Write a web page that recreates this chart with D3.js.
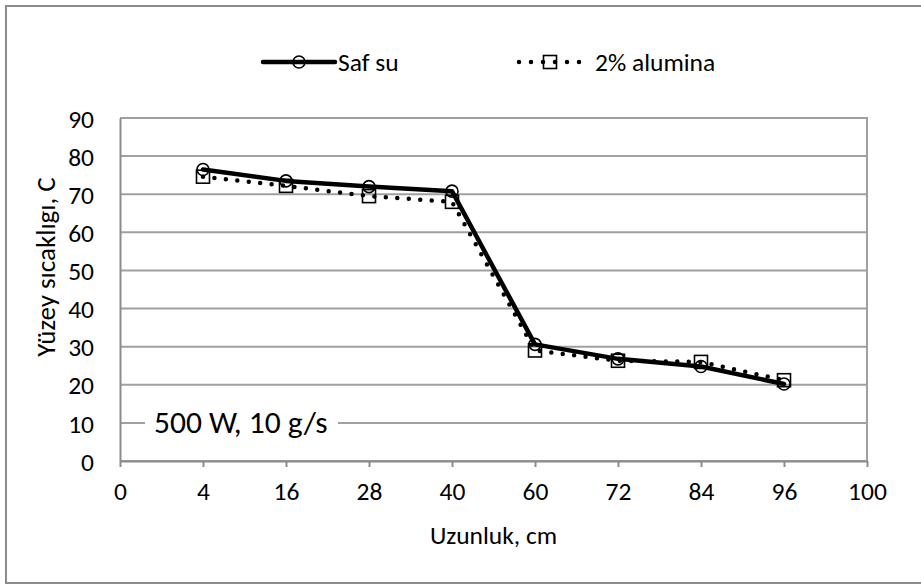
<!DOCTYPE html>
<html>
<head>
<meta charset="utf-8">
<script src="https://cdn.jsdelivr.net/npm/d3@7"></script>
<style>
  html, body { margin: 0; padding: 0; background: #fff; }
  svg { display: block; }
  text { font-family: Carlito, Calibri, Lato, "Open Sans", sans-serif; fill: #000; }
</style>
</head>
<body>
<svg id="chart" width="921" height="585"></svg>
<script>
// ---- data ----
const xLabels = ["0", "4", "16", "28", "40", "60", "72", "84", "96", "100"];
const categories = ["4", "16", "28", "40", "60", "72", "84", "96"];
const safSu = [76.5, 73.5, 72.0, 70.8, 30.6, 26.8, 24.8, 20.2];
const alumina = [74.6, 72.2, 69.5, 68.0, 29.0, 26.3, 26.0, 21.2];
const yTicks = [0, 10, 20, 30, 40, 50, 60, 70, 80, 90];
const seriesNames = ["Saf su", "2% alumina"];
const yTitle = "Yüzey sıcaklıgı, C";
const xTitle = "Uzunluk, cm";
const note = "500 W, 10 g/s";

// ---- layout ----
const W = 921, H = 585;
const plot = { left: 120, right: 867, top: 118, bottom: 461 };
const fontSize = 25.5;
const gridColor = "#a0a0a0";

const svg = d3.select("#chart");

// outer border
svg.append("rect")
  .attr("x", 6).attr("y", 6)
  .attr("width", W + 10).attr("height", 577)
  .attr("fill", "#fff").attr("stroke", "#8c8c8c").attr("stroke-width", 2);

const x = d3.scalePoint().domain(xLabels).range([plot.left, plot.right]);
const y = d3.scaleLinear().domain([0, 90]).range([plot.bottom, plot.top]);

// gridlines
svg.append("g").selectAll("line").data(yTicks).join("line")
  .attr("x1", plot.left).attr("x2", plot.right)
  .attr("y1", d => y(d)).attr("y2", d => y(d))
  .attr("stroke", gridColor).attr("stroke-width", 2);

// right border of plot area
svg.append("line")
  .attr("x1", plot.right).attr("x2", plot.right)
  .attr("y1", plot.top - 1).attr("y2", plot.bottom)
  .attr("stroke", gridColor).attr("stroke-width", 2);

// y axis
const yAxis = d3.axisLeft(y).tickValues(yTicks).tickSize(0).tickPadding(26).tickFormat(d3.format("d"));
const gy = svg.append("g").attr("transform", `translate(${plot.left},0)`).call(yAxis);
gy.select(".domain").attr("stroke", "#8c8c8c").attr("stroke-width", 2);
gy.selectAll("text").style("font-size", fontSize + "px").attr("fill", "#000").attr("dy", "0.36em");

// x axis
const xAxis = d3.axisBottom(x).tickSize(6).tickPadding(15).tickSizeOuter(0);
const gx = svg.append("g").attr("transform", `translate(0,${plot.bottom})`).call(xAxis);
gx.select(".domain").attr("stroke", "#8c8c8c").attr("stroke-width", 2);
gx.selectAll(".tick line").attr("stroke", "#8c8c8c").attr("stroke-width", 2);
gx.selectAll("text").style("font-size", fontSize + "px").attr("fill", "#000");

// axis titles
svg.append("text")
  .attr("transform", `translate(55,267) rotate(-90)`)
  .attr("text-anchor", "middle")
  .style("font-size", "27px")
  .text(yTitle);

svg.append("text")
  .attr("x", (plot.left + plot.right) / 2).attr("y", 544)
  .attr("text-anchor", "middle")
  .style("font-size", fontSize + "px")
  .text(xTitle);

// series
const line = d3.line().x(d => x(d.c)).y(d => y(d.v)).curve(d3.curveLinear);
const s1 = categories.map((c, i) => ({ c, v: safSu[i] }));
const s2 = categories.map((c, i) => ({ c, v: alumina[i] }));

svg.append("path").datum(s1).attr("d", line)
  .attr("fill", "none").attr("stroke", "#000").attr("stroke-width", 4.5)
  .attr("stroke-linejoin", "round").attr("stroke-linecap", "round");
svg.append("g").selectAll("circle").data(s1).join("circle")
  .attr("cx", d => x(d.c)).attr("cy", d => y(d.v)).attr("r", 6)
  .attr("fill", "none").attr("stroke", "#000").attr("stroke-width", 1.6);

svg.append("path").datum(s2).attr("d", line)
  .attr("fill", "none").attr("stroke", "#000").attr("stroke-width", 4.5)
  .attr("stroke-dasharray", "0 11.5").attr("stroke-linecap", "round");
svg.append("g").selectAll("rect").data(s2).join("rect")
  .attr("x", d => x(d.c) - 6.5).attr("y", d => y(d.v) - 6.5)
  .attr("width", 13).attr("height", 13)
  .attr("fill", "none").attr("stroke", "#000").attr("stroke-width", 1.6);

// annotation box over gridline 10
const noteY = y(10);
svg.append("rect")
  .attr("x", 145).attr("y", noteY - 20).attr("width", 193).attr("height", 40)
  .attr("fill", "#fff");
svg.append("text")
  .attr("x", 154).attr("y", noteY + 10)
  .style("font-size", "31.5px")
  .text(note);

// legend
const legY = 62;
const lg = svg.append("g");
lg.append("line").attr("x1", 263).attr("x2", 335).attr("y1", legY).attr("y2", legY)
  .attr("stroke", "#000").attr("stroke-width", 4.5).attr("stroke-linecap", "round");
lg.append("circle").attr("cx", 299).attr("cy", legY).attr("r", 6)
  .attr("fill", "none").attr("stroke", "#000").attr("stroke-width", 1.6);
lg.append("text").attr("x", 338).attr("y", legY + 9)
  .style("font-size", fontSize + "px").text(seriesNames[0]);

lg.append("line").attr("x1", 519).attr("x2", 582).attr("y1", legY).attr("y2", legY)
  .attr("stroke", "#000").attr("stroke-width", 4.5)
  .attr("stroke-dasharray", "0 12").attr("stroke-linecap", "round");
lg.append("rect").attr("x", 550 - 6.5).attr("y", legY - 6.5).attr("width", 13).attr("height", 13)
  .attr("fill", "none").attr("stroke", "#000").attr("stroke-width", 1.6);
lg.append("text").attr("x", 595).attr("y", legY + 9)
  .style("font-size", fontSize + "px").text(seriesNames[1]);
</script>
</body>
</html>
